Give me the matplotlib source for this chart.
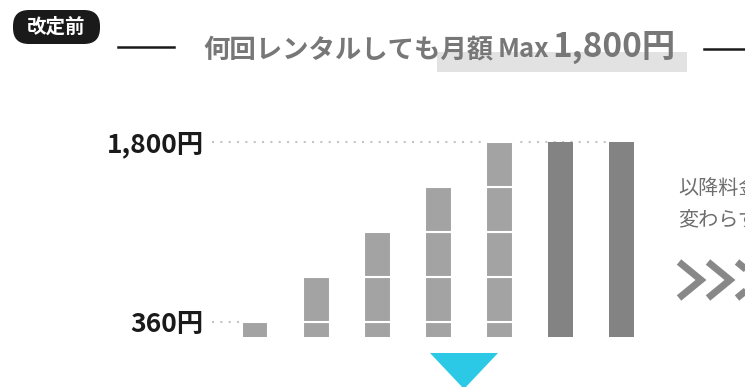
import matplotlib
matplotlib.use('Agg')
import matplotlib.pyplot as plt
from matplotlib.patches import FancyBboxPatch, Rectangle, Polygon

plt.rcParams['font.family'] = ['Noto Sans CJK JP', 'DejaVu Sans']

# monthly fee by number of rentals
rental_counts = [1, 2, 3, 4, 5, 6, 7]
fee_per_rental = 360
monthly_cap = 1800
tick_values = [360, 1800]
tick_labels = ['360円', '1,800円']

light_gray = '#a3a3a3'
dark_gray = '#838383'
text_gray = '#777777'

W, H = 745, 387
fig = plt.figure(figsize=(W / 100, H / 100), dpi=100)

# chart area (pixel layout: bars from y=337 up, x centres every ~61px from 255)
left_px, right_px, top_px, bottom_px = 212, 665, 130, 337
ax = fig.add_axes([left_px / W, 1 - bottom_px / H,
                   (right_px - left_px) / W, (bottom_px - top_px) / H])
step = 61.1
ax.set_xlim((left_px - 255) / step, (right_px - 255) / step)
ax.set_ylim(240, 240 + (bottom_px - top_px) * 8)

bar_w = 0.44
for i, n in enumerate(rental_counts):
    total = n * fee_per_rental
    if total > monthly_cap:
        ax.bar(i, monthly_cap, width=bar_w - 0.03, color=dark_gray, zorder=3)
    else:
        for k in range(n):
            ax.bar(i, fee_per_rental, bottom=k * fee_per_rental, width=bar_w,
                   color=light_gray, edgecolor='white', linewidth=1.5, zorder=3)

# dotted guide lines from the labels to the bars
x0 = ax.get_xlim()[0]
ax.hlines(tick_values[0], x0, 0 - bar_w / 2, colors='#c4c4c4',
          linestyles=(0, (1, 3)), linewidth=1.5, zorder=1)
ax.hlines(tick_values[1], x0, len(rental_counts) - 1 - bar_w / 2, colors='#c4c4c4',
          linestyles=(0, (1, 3)), linewidth=1.5, zorder=1)

ax.set_yticks(tick_values)
ax.set_yticklabels(tick_labels, fontsize=19, fontweight='bold', color='#1a1a1a')
ax.tick_params(axis='y', length=0, pad=6)
ax.set_xticks([])
for s in ax.spines.values():
    s.set_visible(False)
ax.patch.set_visible(False)

# overlay in pixel coordinates for header and decorations
ov = fig.add_axes([0, 0, 1, 1], zorder=5)
ov.set_xlim(0, W)
ov.set_ylim(H, 0)
ov.axis('off')
ov.patch.set_visible(False)

# badge
ov.add_patch(FancyBboxPatch((13, 10), 87, 34, boxstyle='round,pad=0,rounding_size=16',
                            facecolor='#1a1a1a', edgecolor='none'))
ov.text(56.5, 27.5, '改定前', color='white', fontsize=14, fontweight='bold',
        ha='center', va='center')

# header
ov.plot([118, 174], [47, 47], color='#1a1a1a', linewidth=1.8)
ov.plot([704, 745], [49, 49], color='#1a1a1a', linewidth=1.8)
ov.add_patch(Rectangle((437, 52), 250, 20, facecolor='#e2e2e2', edgecolor='none', zorder=0))
ov.text(203, 57, '何回レンタルしても月額', color=text_gray, fontsize=19,
        fontweight='bold', ha='left', va='baseline')
ov.text(498, 57, 'Max', color=text_gray, fontsize=18.5, fontweight='bold',
        ha='left', va='baseline')
ov.text(552, 57, '1,800円', color=text_gray, fontsize=24, fontweight='bold',
        ha='left', va='baseline')

# right-hand note and chevrons
ov.text(678, 189, '以降料金は', color='#6e6e6e', fontsize=14.5, ha='left', va='center')
ov.text(678, 220, '変わらず', color='#6e6e6e', fontsize=14.5, ha='left', va='center')
for dx in (0, 29, 58):
    ov.plot([679 + dx, 701 + dx, 679 + dx], [262, 280, 298], color='#888888',
            linewidth=5, solid_joinstyle='miter', solid_capstyle='butt')

# down arrow
ov.add_patch(Polygon([(430, 353), (498, 353), (464, 389)], closed=True,
                     facecolor='#2bc9e6', edgecolor='none'))

fig.savefig('out.png', dpi=100)
